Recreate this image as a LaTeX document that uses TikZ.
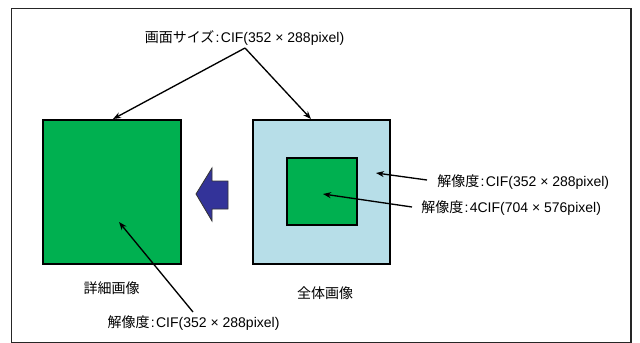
\documentclass[tikz,border=0pt]{standalone}
\usepackage{fontspec}
\setmainfont{Liberation Sans}
\newfontfamily\cjk{Noto Sans CJK JP}
\newcommand\jp[1]{{\cjk #1}}
\usetikzlibrary{arrows.meta}
\definecolor{grn}{HTML}{00B050}
\definecolor{ltblue}{HTML}{B7DEE8}
\definecolor{navy}{HTML}{333399}
\tikzset{
  lbl/.style={font=\fontsize{10.5pt}{12pt}\selectfont, inner sep=0pt},
  box/.style={draw=black, line width=1.1pt, inner sep=0pt},
  ptr/.style={line width=1pt, -{Stealth[length=6pt,width=4.5pt]}},
}
\begin{document}
\begin{tikzpicture}[x=0.75pt,y=-0.75pt]
\useasboundingbox (0,0) rectangle (640,343);
% outer frame
\draw[line width=1.2pt, black!85] (11.5,8.5) rectangle (631,342.5);
% boxes
\node[box, fill=grn, minimum width=103.5pt, minimum height=108pt] (detail) at (112,192) {};
\node[box, fill=ltblue, minimum width=102.75pt, minimum height=108pt] (whole) at (321.5,192) {};
\node[box, fill=grn, minimum width=52.5pt, minimum height=50.25pt] (inner) at (322,191.5) {};
% big blue arrow
\draw[fill=navy, draw=black!80, line width=0.6pt]
  (196,194) -- (212,168) -- (212,181) -- (228,181) -- (228,209) -- (212,209) -- (212,221) -- cycle;
% texts
\node[lbl] (title) at (244.5,38) {\jp{画面サイズ}\kern1pt:\kern1pt CIF(352 × 288pixel)};
\node[lbl, anchor=west] (res1) at (437,182) {\jp{解像度}\kern1pt:\kern1pt CIF(352 × 288pixel)};
\node[lbl, anchor=west] (res2) at (421,208) {\jp{解像度}\kern1pt:\kern1pt 4CIF(704 × 576pixel)};
\node[lbl] (res3) at (193.5,323) {\jp{解像度}\kern1pt:\kern1pt CIF(352 × 288pixel)};
\node[lbl] (cap1) at (111.5,288) {\jp{詳細画像}};
\node[lbl] (cap2) at (325,293) {\jp{全体画像}};
% connector points
\coordinate (t0) at (245,48);
\coordinate (tL) at (113,119);
\coordinate (tR) at (311,119);
\coordinate (r1s) at (427,180);
\coordinate (r1e) at (376,173);
\coordinate (r2s) at (412,207);
\coordinate (r2e) at (323,194);
\coordinate (r3s) at (193,312);
\coordinate (r3e) at (119,222);
\draw[ptr] (t0) -- (tL);
\draw[ptr] (t0) -- (tR);
\draw[ptr] (r1s) -- (r1e);
\draw[ptr] (r2s) -- (r2e);
\draw[ptr] (r3s) -- (r3e);
\end{tikzpicture}
\end{document}
